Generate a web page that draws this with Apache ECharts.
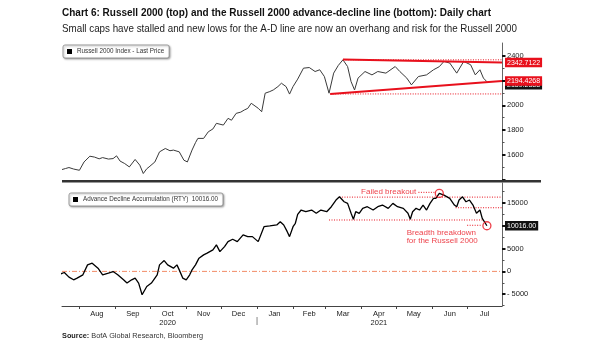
<!DOCTYPE html>
<html><head><meta charset="utf-8">
<script src="https://cdn.jsdelivr.net/npm/echarts@6/dist/echarts.min.js"></script>
<style>html,body{margin:0;padding:0;background:#fff}#c{width:605px;height:341px}</style>
</head><body><div id="c"></div>
<script>
// ---------------- data ----------------
const titleText = 'Chart 6: Russell 2000 (top) and the Russell 2000 advance-decline line (bottom): Daily chart';
const subtitleText = 'Small caps have stalled and new lows for the A-D line are now an overhang and risk for the Russell 2000';
const sourceLabel = 'Source:';
const sourceText = ' BofA Global Research, Bloomberg';
const topSeriesName = 'Russell 2000 Index - Last Price';
const adSeriesName = 'Advance Decline Accumulation (RTY)';

const xMin = '2020-07-17';
const xMax = '2021-07-31';
const monthStarts = ['2020-08-01','2020-09-01','2020-10-01','2020-11-01','2020-12-01','2021-01-01','2021-02-01','2021-03-01','2021-04-01','2021-05-01','2021-06-01','2021-07-01'];
const monthLabelDates = ['2020-08-16','2020-09-16','2020-10-16','2020-11-16','2020-12-16','2021-01-16','2021-02-15','2021-03-16','2021-04-16','2021-05-16','2021-06-16','2021-07-16'];
const monthLabels = ['Aug','Sep','Oct','Nov','Dec','Jan','Feb','Mar','Apr','May','Jun','Jul'];
const yearLabels = ['','','2020','','','','','','2021','','',''];
const yearBreak = '2021-01-01';

const topMin = 1400, topMax = 2500;
const topMajorTicks = [1400,1600,1800,2000,2200,2400];
const topTickLabels = [1600,1800,2000,2200,2400];
const topMinorTicks = [1500,1700,1900,2100,2300];
const adMin = -7600, adMax = 19400;
const adMajorTicks = [-5000,0,5000,10000,15000];
const adMinorTicks = [-7500,-2500,2500,7500,12500,17500];

const r2kPrice = [
['2020-07-17',1484],['2020-07-20',1492],['2020-07-23',1500],['2020-07-27',1488],['2020-08-01',1478],['2020-08-05',1545],['2020-08-10',1591],['2020-08-14',1584],['2020-08-18',1570],['2020-08-21',1580],['2020-08-26',1568],['2020-08-30',1572],['2020-09-02',1594],['2020-09-05',1552],['2020-09-09',1532],['2020-09-13',1505],['2020-09-18',1565],['2020-09-22',1519],['2020-09-25',1452],['2020-09-28',1490],['2020-09-30',1505],['2020-10-05',1545],['2020-10-09',1626],['2020-10-14',1653],['2020-10-18',1635],['2020-10-21',1640],['2020-10-26',1626],['2020-10-30',1559],['2020-11-02',1545],['2020-11-06',1640],['2020-11-09',1700],['2020-11-11',1734],['2020-11-16',1734],['2020-11-20',1787],['2020-11-24',1810],['2020-11-27',1855],['2020-12-03',1841],['2020-12-07',1895],['2020-12-10',1880],['2020-12-14',1935],['2020-12-18',1945],['2020-12-21',1962],['2020-12-24',1975],['2020-12-27',2016],['2021-01-02',1976],['2021-01-05',1948],['2021-01-08',2097],['2021-01-12',2110],['2021-01-15',2123],['2021-01-19',2150],['2021-01-22',2177],['2021-01-26',2150],['2021-01-29',2090],['2021-02-01',2150],['2021-02-05',2210],['2021-02-10',2298],['2021-02-15',2303],['2021-02-20',2271],['2021-02-24',2285],['2021-02-28',2231],['2021-03-04',2097],['2021-03-08',2258],['2021-03-12',2320],['2021-03-16',2365],['2021-03-20',2311],['2021-03-23',2190],['2021-03-26',2123],['2021-03-29',2218],['2021-04-04',2271],['2021-04-10',2244],['2021-04-15',2271],['2021-04-22',2258],['2021-04-30',2311],['2021-05-04',2271],['2021-05-10',2218],['2021-05-14',2164],['2021-05-20',2231],['2021-05-27',2244],['2021-06-02',2285],['2021-06-07',2310],['2021-06-11',2352],['2021-06-16',2339],['2021-06-22',2258],['2021-06-28',2352],['2021-07-04',2325],['2021-07-08',2244],['2021-07-12',2285],['2021-07-15',2218],['2021-07-18',2189.2388]
];
const upperTrend = [['2021-03-16',2368],['2021-07-31',2342.7122]];
const lowerTrend = [['2021-03-05',2091],['2021-07-31',2194.4268]];
const topDottedHigh = [['2021-03-16',2365],['2021-07-31',2365]];
const topDottedLow = [['2021-03-05',2091],['2021-07-31',2091]];

const adLine = [
['2020-07-16',-550],['2020-07-19',-250],['2020-07-23',-1260],['2020-07-27',-1850],['2020-07-30',-1480],['2020-08-04',-760],['2020-08-08',1430],['2020-08-12',1790],['2020-08-17',700],['2020-08-21',-760],['2020-08-26',-390],['2020-08-30',-40],['2020-09-03',-760],['2020-09-08',-1850],['2020-09-11',-2570],['2020-09-15',-1850],['2020-09-18',-1480],['2020-09-21',-2570],['2020-09-24',-5130],['2020-09-28',-3310],['2020-10-02',-2570],['2020-10-07',-760],['2020-10-09',1430],['2020-10-13',2380],['2020-10-16',1430],['2020-10-21',700],['2020-10-24',1430],['2020-10-26',330],['2020-10-29',-1480],['2020-11-01',-1850],['2020-11-04',-760],['2020-11-06',330],['2020-11-09',1430],['2020-11-12',2900],['2020-11-16',3620],['2020-11-19',4000],['2020-11-24',4720],['2020-11-27',5810],['2020-11-30',4340],['2020-12-04',5440],['2020-12-07',6530],['2020-12-11',7060],['2020-12-15',6530],['2020-12-20',8000],['2020-12-24',7630],['2020-12-28',7630],['2021-01-02',6530],['2021-01-07',9810],['2021-01-12',9970],['2021-01-18',10190],['2021-01-21',10900],['2021-01-24',10190],['2021-01-27',8720],['2021-01-29',7630],['2021-02-01',9810],['2021-02-03',10560],['2021-02-05',12500],['2021-02-08',13470],['2021-02-12',13100],['2021-02-17',13470],['2021-02-21',12750],['2021-02-25',13470],['2021-03-02',13100],['2021-03-06',14190],['2021-03-10',15660],['2021-03-13',16380],['2021-03-17',15280],['2021-03-20',14930],['2021-03-23',12750],['2021-03-25',11430],['2021-03-27',13100],['2021-03-30',12750],['2021-04-02',13840],['2021-04-06',14190],['2021-04-11',13470],['2021-04-15',14190],['2021-04-19',14560],['2021-04-24',13840],['2021-04-28',14930],['2021-05-02',14190],['2021-05-07',13840],['2021-05-11',12750],['2021-05-13',11430],['2021-05-15',13100],['2021-05-18',13840],['2021-05-21',13470],['2021-05-24',14560],['2021-05-27',13470],['2021-05-30',14930],['2021-06-02',16030],['2021-06-04',16030],['2021-06-07',17120],['2021-06-11',16750],['2021-06-16',16030],['2021-06-20',14560],['2021-06-22',14190],['2021-06-24',15660],['2021-06-27',16380],['2021-06-30',15280],['2021-07-03',15660],['2021-07-06',14560],['2021-07-09',12750],['2021-07-12',13470],['2021-07-14',11650],['2021-07-18',10016]
];
const zeroLine = [[xMin,0],[xMax,0]];
const adDottedHigh = [['2021-03-13',16300],['2021-07-31',16300]];
const adDottedMid = [['2021-06-21',13970],['2021-07-31',13970]];
const adDottedLow = [['2021-03-04',11280],['2021-07-15',11280]];
const failedLeader = [['2021-05-20',17350],['2021-06-04',17350]];
const breakdownLeader = [['2021-07-01',10120],['2021-07-13',10120]];
const circlePoints = [['2021-06-07',17120],['2021-07-18',10016]];
const annotationTexts = ['Failed breakout','Breadth breakdown\nfor the Russell 2000'];
const annotationAnchors = [['2021-05-19',17400],['2021-05-09',7580]];
const annotationSides = ['left','right'];

// ---------------- helpers ----------------
const T = d => Date.parse(d);
const pts = arr => arr.map(([d,v]) => [T(d), v]);
const RED = '#e8101c';
const FONT = "'Liberation Sans',Arial,sans-serif";
const ctx = document.createElement('canvas').getContext('2d');
function measure(text, font){ ctx.font = font; return ctx.measureText(text).width; }
const titleFont = 'bold 11.5px ' + FONT;
const subFont = '11px ' + FONT;
const srcBold = 'bold 8px ' + FONT, srcNorm = '8px ' + FONT;
const titleScale = 429 / measure(titleText, titleFont);
const subScale = 455 / measure(subtitleText, subFont);
const srcScale = 141 / (measure(sourceLabel, srcBold) + measure(sourceText, srcNorm));

const G0 = {left:62, right:103, top:43, height:137};
const G1 = {left:62, right:103, top:183, height:123};
const lastTop = r2kPrice[r2kPrice.length-1][1];
const lastAd = adLine[adLine.length-1][1];

function dotted(data, xi, yi){
  return {type:'line', xAxisIndex:xi, yAxisIndex:yi, data:pts(data), symbol:'none', silent:true,
    lineStyle:{color:RED, width:1, type:[1,1.5]}, z:3};
}
function valueLabel(val, text, bg, z, offset){
  return {symbol:'none', silent:true, z:z, animation:false,
    lineStyle:{color:'rgba(0,0,0,0)', width:0},
    data:[{yAxis:val}],
    label:{show:true, position:'end', distance:3, formatter:text, color:'#fff', backgroundColor:bg,
      padding:[1.5,2,1,2], fontSize:7, fontFamily:FONT, offset:offset||[0,0]}};
}
function legendBox(name, left, top, fmt){
  const l = {data:[name], left:left, top:top, icon:'rect', itemWidth:5, itemHeight:5, itemGap:0,
     padding:[3.5,5,3.5,4], borderColor:'#888', borderWidth:0.8, borderRadius:2, backgroundColor:'#fff',
     shadowBlur:2, shadowColor:'rgba(0,0,0,0.35)', shadowOffsetX:1, shadowOffsetY:1, selectedMode:false,
     itemStyle:{color:'#000'}, textStyle:{fontSize:6.3, color:'#333', fontFamily:FONT}};
  if (fmt) l.formatter = fmt;
  return l;
}

const chart = echarts.init(document.getElementById('c'), null, {renderer:'canvas'});
const option = {
  animation:false,
  backgroundColor:'#fff',
  legend:[
    legendBox(topSeriesName, 63, 45),
    legendBox(adSeriesName, 69, 193, n => n + '  ' + lastAd.toFixed(2))
  ],
  grid:[G0, G1],
  xAxis:[
    {gridIndex:0, type:'value', min:T(xMin), max:T(xMax), show:false},
    {gridIndex:1, type:'value', min:T(xMin), max:T(xMax),
     axisLine:{show:true, onZero:false, lineStyle:{color:'#444', width:1}},
     axisTick:{show:true, customValues:monthStarts.map(T), length:3, lineStyle:{color:'#444'}},
     axisLabel:{show:true, customValues:monthLabelDates.map(T), margin:3, fontSize:7.5, lineHeight:9,
       color:'#222', fontFamily:FONT,
       formatter: v => { const i = monthLabelDates.map(T).indexOf(v); return i<0 ? '' : (yearLabels[i] ? monthLabels[i]+'\n'+yearLabels[i] : monthLabels[i]); }},
     splitLine:{show:false}}
  ],
  yAxis:[
    {gridIndex:0, type:'value', position:'right', min:topMin, max:topMax,
     axisLine:{show:true, lineStyle:{color:'#666', width:1}},
     axisTick:{show:true, customValues:topMajorTicks, length:3.5, lineStyle:{color:'#111', width:2}},
     axisLabel:{show:true, customValues:topTickLabels, margin:5, fontSize:7.5, color:'#222', fontFamily:FONT,
       formatter: v => String(v)},
     splitLine:{show:false}},
    {gridIndex:1, type:'value', position:'right', min:adMin, max:adMax,
     axisLine:{show:true, lineStyle:{color:'#666', width:1}},
     axisTick:{show:true, customValues:adMajorTicks, length:3.5, lineStyle:{color:'#111', width:2}},
     axisLabel:{show:true, customValues:adMajorTicks, margin:5, fontSize:7.5, color:'#222', fontFamily:FONT,
       formatter: v => v < 0 ? '- ' + Math.abs(v) : String(v)},
     splitLine:{show:false}},
    {gridIndex:0, type:'value', position:'right', min:topMin, max:topMax,
     axisLine:{show:false}, axisLabel:{show:false}, splitLine:{show:false},
     axisTick:{show:true, customValues:topMinorTicks, length:2.5, lineStyle:{color:'#555', width:1}}},
    {gridIndex:1, type:'value', position:'right', min:adMin, max:adMax,
     axisLine:{show:false}, axisLabel:{show:false}, splitLine:{show:false},
     axisTick:{show:true, customValues:adMinorTicks, length:2.5, lineStyle:{color:'#555', width:1}}}
  ],
  series:[
    {name:topSeriesName, type:'line', xAxisIndex:0, yAxisIndex:0, data:pts(r2kPrice), symbol:'none',
     lineStyle:{color:'#3a3a3a', width:1}, itemStyle:{color:'#000'}, z:2,
     markLine: valueLabel(lastTop, lastTop.toFixed(4), '#111', 5, [0,3])},
    dotted(topDottedHigh,0,0),
    dotted(topDottedLow,0,0),
    {name:'upper', type:'line', xAxisIndex:0, yAxisIndex:0, data:pts(upperTrend), symbol:'none',
     lineStyle:{color:RED, width:2}, z:4,
     markLine: valueLabel(upperTrend[1][1], upperTrend[1][1].toFixed(4), RED, 6)},
    {name:'lower', type:'line', xAxisIndex:0, yAxisIndex:0, data:pts(lowerTrend), symbol:'none',
     lineStyle:{color:RED, width:2}, z:4,
     markLine: valueLabel(lowerTrend[1][1], lowerTrend[1][1].toFixed(4), RED, 7)},

    {name:'zero', type:'line', xAxisIndex:1, yAxisIndex:1, data:pts(zeroLine), symbol:'none', silent:true, z:1,
     lineStyle:{color:'#f28a66', width:1, type:[5,2,1,2]}},
    {name:adSeriesName, type:'line', xAxisIndex:1, yAxisIndex:1, data:pts(adLine), symbol:'none',
     lineStyle:{color:'#000', width:1.3}, itemStyle:{color:'#000'}, z:4,
     markLine: valueLabel(lastAd, lastAd.toFixed(2), '#111', 5)},
    dotted(adDottedHigh,1,1),
    dotted(adDottedMid,1,1),
    dotted(adDottedLow,1,1),
    dotted(failedLeader,1,1),
    dotted(breakdownLeader,1,1),
    {type:'scatter', xAxisIndex:1, yAxisIndex:1, data:pts(circlePoints), symbol:'circle', symbolSize:8,
     itemStyle:{color:'rgba(0,0,0,0)', borderColor:RED, borderWidth:1.3}, z:6, silent:true},
    {type:'scatter', xAxisIndex:1, yAxisIndex:1, symbolSize:0, silent:true, z:6,
     data: annotationAnchors.map((a,i) => ({value:[T(a[0]), a[1]],
       label:{show:true, formatter:annotationTexts[i], position:annotationSides[i], distance:1,
         color:RED, fontSize:8, lineHeight:8.5, fontFamily:FONT, align: annotationSides[i]==='left'?'right':'left'}}))}
  ]
};
chart.setOption(option);
const xb = chart.convertToPixel({xAxisIndex:1}, T(yearBreak));
chart.setOption({graphic:[
  {type:'rect', shape:{x:G0.left, y:G0.top+G0.height, width:479, height:2.6}, style:{fill:'#333'}, z:20, silent:true},
  {type:'line', shape:{x1:xb, y1:G1.top+G1.height+11, x2:xb, y2:G1.top+G1.height+19}, style:{stroke:'#888', lineWidth:1}, z:20, silent:true},
  {type:'text', x:62, y:13, scaleX:titleScale, silent:true,
   style:{text:titleText, font:titleFont, fill:'#111', textVerticalAlign:'middle'}},
  {type:'text', x:62, y:29, scaleX:subScale, silent:true,
   style:{text:subtitleText, font:subFont, fill:'#222', textVerticalAlign:'middle'}},
  {type:'text', x:62, y:336, scaleX:srcScale, silent:true,
   style:{text:'{b|'+sourceLabel+'}{n|'+sourceText+'}', textVerticalAlign:'middle',
     rich:{b:{font:srcBold, fill:'#222'}, n:{font:srcNorm, fill:'#333'}}}}
]});
</script></body></html>
